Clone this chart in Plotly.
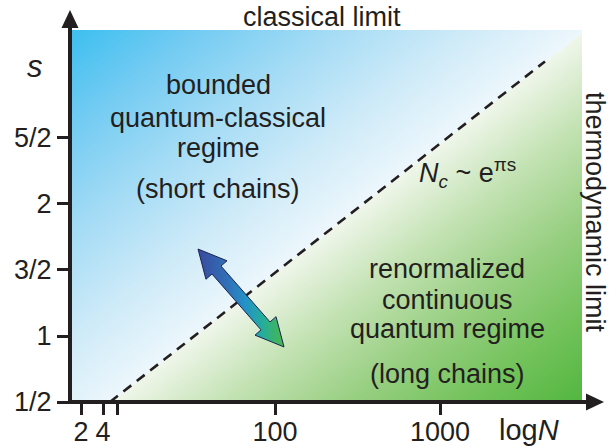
import numpy as np
import plotly.graph_objects as go

# ---- axes -------------------------------------------------------------
x_tick_pos = [11, 33, 205, 370]              # labelled positions along the log N axis
x_tick_text = ["2", "4", "100", "1000"]
x_minor_pos = [47]                           # unlabelled tick
s_tick_vals = [0.5, 1.0, 1.5, 2.0, 2.5]
s_tick_text = ["1/2", "1", "3/2", "2", "5/2"]

X_RANGE = [0, 512]
S_RANGE = [0.5, 3.318]

# ---- crossover line N_c ~ e^{pi s} -------------------------------------
crossover_x = [40, 475]
crossover_s = [0.5, 3.08]

# ---- double arrow between the two regimes -----------------------------
arrow_x = [128, 214]
arrow_s = [1.659, 0.917]

# ---- region labels ----------------------------------------------------
upper_lines = ["bounded", "quantum-classical", "regime", "(short chains)"]
upper_x = 148
upper_s = [2.905, 2.655, 2.425, 2.11]

lower_lines = ["renormalized", "continuous", "quantum regime", "(long chains)"]
lower_x = 377
lower_s = [1.51, 1.27, 1.055, 0.715]

TXT = "#231f20"
FONT = "Liberation Sans, Arial, Helvetica, sans-serif"
FS = 27

W, H = 609, 448
M = dict(l=70, r=27, t=30, b=46)
plot_w = W - M["l"] - M["r"]
plot_h = H - M["t"] - M["b"]
ky = plot_h / (S_RANGE[1] - S_RANGE[0])   # pixels per unit of s
kx = plot_w / (X_RANGE[1] - X_RANGE[0])   # pixels per x unit


def to_px(x, s):
    return np.array([(x - X_RANGE[0]) * kx, (s - S_RANGE[0]) * ky])


def from_px(p):
    return p[0] / kx + X_RANGE[0], p[1] / ky + S_RANGE[0]


def paper_x(px):
    return (px - M["l"]) / plot_w


def paper_y(py):
    return (H - M["b"] - py) / plot_h


# ---- background: two regimes shaded by distance from the crossover ----
gx = np.linspace(X_RANGE[0], X_RANGE[1], 161)
gs = np.linspace(S_RANGE[0], S_RANGE[1], 121)
GX, GS = np.meshgrid(gx, gs)
p0 = to_px(crossover_x[0], crossover_s[0])
p1 = to_px(crossover_x[1], crossover_s[1])
d = (p1 - p0) / np.linalg.norm(p1 - p0)
PX = (GX - X_RANGE[0]) * kx
PY = (GS - S_RANGE[0]) * ky
side = d[0] * (PY - p0[1]) - d[1] * (PX - p0[0])
z = np.where(side >= 0, side / side.max(), side / -side.min())

bg_scale = [
    [0.0, "#52b640"],
    [0.12, "#72c25a"],
    [0.25, "#98cf82"],
    [0.38, "#c3e2b3"],
    [0.4995, "#eff6ea"],
    [0.5005, "#edf7fc"],
    [0.62, "#cdeaf8"],
    [0.75, "#a3dbf5"],
    [0.88, "#72cbf2"],
    [1.0, "#3cbff0"],
]

fig = go.Figure()
fig.add_trace(go.Heatmap(
    x=gx, y=gs, z=z, zmin=-1, zmax=1, zsmooth="best",
    colorscale=bg_scale, showscale=False, hoverinfo="skip",
))

fig.add_trace(go.Scatter(
    x=crossover_x, y=crossover_s, mode="lines",
    line=dict(color=TXT, width=2.6, dash="10px,7px"),
    hoverinfo="skip", showlegend=False,
))

# double-headed arrow polygon
pa = to_px(arrow_x[0], arrow_s[0])
pb = to_px(arrow_x[1], arrow_s[1])
u = (pb - pa) / np.linalg.norm(pb - pa)
n = np.array([-u[1], u[0]])
head_len, head_half, shaft_half = 28.0, 14.0, 6.0
a = pa + u * head_len
b = pb - u * head_len
poly = [pa, a + n * head_half, a + n * shaft_half, b + n * shaft_half,
        b + n * head_half, pb, b - n * head_half, b - n * shaft_half,
        a - n * shaft_half, a - n * head_half, pa]
ax_pts, as_pts = zip(*[from_px(p) for p in poly])
fig.add_trace(go.Scatter(
    x=list(ax_pts), y=list(as_pts), mode="lines", fill="toself",
    line=dict(color="#1d2450", width=1),
    fillgradient=dict(type="horizontal", colorscale=[
        [0.0, "#3a4a9e"], [0.35, "#3071b8"], [0.55, "#2492c8"],
        [0.75, "#25ad9c"], [1.0, "#4ab748"]]),
    hoverinfo="skip", showlegend=False,
))


def label(text, x, y, size=FS, **kw):
    return dict(x=x, y=y, text=text, showarrow=False,
                xanchor="center", yanchor="middle",
                font=dict(size=size, color=TXT, family=FONT), **kw)


annotations = []
for line, s in zip(upper_lines, upper_s):
    annotations.append(label(line, upper_x, s))
for line, s in zip(lower_lines, lower_s):
    annotations.append(label(line, lower_x, s))
annotations.append(label("<i>N</i><sub><i>c</i></sub> ~ e<sup>πs</sup>", 397, 2.235))

# outer labels
annotations += [
    label("classical limit", paper_x(322), paper_y(17), xref="paper", yref="paper"),
    label("thermodynamic limit", paper_x(595), paper_y(212), xref="paper",
          yref="paper", textangle=90),
    label("<i>s</i>", paper_x(35), paper_y(66), size=31, xref="paper", yref="paper"),
    label("log<i>N</i>", paper_x(529), paper_y(430), size=29, xref="paper", yref="paper"),
]

# axis lines with filled arrow heads
AW = 4
shapes = [
    dict(type="line", xref="paper", yref="paper",
         x0=paper_x(M["l"] - 2), y0=0, x1=paper_x(590), y1=0,
         line=dict(color=TXT, width=AW)),
    dict(type="line", xref="paper", yref="paper",
         x0=0, y0=paper_y(H - M["b"] + 2), x1=0, y1=paper_y(24),
         line=dict(color=TXT, width=AW)),
    dict(type="path", xref="paper", yref="paper", line=dict(width=0),
         fillcolor=TXT,
         path=(f"M{paper_x(604)},{paper_y(H - M['b'])} "
               f"L{paper_x(586)},{paper_y(H - M['b'] - 8.5)} "
               f"L{paper_x(586)},{paper_y(H - M['b'] + 8.5)} Z")),
    dict(type="path", xref="paper", yref="paper", line=dict(width=0),
         fillcolor=TXT,
         path=(f"M{paper_x(M['l'])},{paper_y(10)} "
               f"L{paper_x(M['l'] - 8.5)},{paper_y(28)} "
               f"L{paper_x(M['l'] + 8.5)},{paper_y(28)} Z")),
]

fig.update_layout(
    width=W, height=H, margin=M,
    paper_bgcolor="white", plot_bgcolor="white",
    showlegend=False, annotations=annotations, shapes=shapes,
    xaxis=dict(range=X_RANGE, tickvals=x_tick_pos, ticktext=x_tick_text,
               ticks="outside", ticklen=12, tickwidth=3, tickcolor=TXT,
               ticklabelstandoff=-6,
               minor=dict(tickvals=x_minor_pos, ticks="outside", ticklen=12,
                          tickwidth=3, tickcolor=TXT, showgrid=False),
               showline=False, showgrid=False, zeroline=False, automargin=False,
               tickfont=dict(size=FS, color=TXT, family=FONT)),
    yaxis=dict(range=S_RANGE, tickvals=s_tick_vals, ticktext=s_tick_text,
               ticks="outside", ticklen=12, tickwidth=3, tickcolor=TXT,
               showline=False, showgrid=False, zeroline=False, automargin=False,
               tickfont=dict(size=FS, color=TXT, family=FONT)),
)

fig.write_html("out.html")
